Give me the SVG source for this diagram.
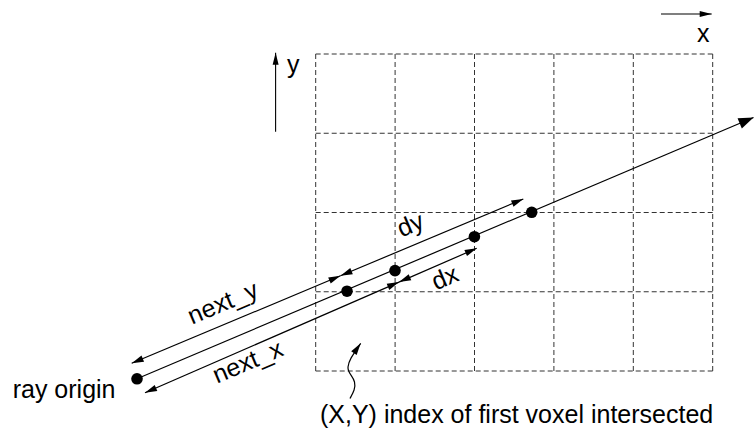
<svg xmlns="http://www.w3.org/2000/svg" width="754" height="430" viewBox="0 0 754 430">
<style>
  .grid line { stroke: #333; stroke-width: 1; stroke-dasharray: 5 3; fill: none; }
  .conn { stroke: #000; stroke-width: 1.2; fill: none; }
  .axis { stroke: #000; stroke-width: 1.1; fill: none; }
  .dot { fill: #000; }
  text { font-family: "Liberation Sans", Arial, Helvetica, sans-serif; font-size: 25px; fill: #000; }
</style>
<defs>
  <marker id="ah" markerUnits="userSpaceOnUse" viewBox="-13 -5 14 10" markerWidth="14" markerHeight="10" refX="0" refY="0" orient="auto-start-reverse" overflow="visible">
    <path d="M0,0 L-12,-3.3 L-12,3.3 Z" fill="#000"/>
  </marker>
  <marker id="big" markerUnits="userSpaceOnUse" viewBox="-16 -7 17 14" markerWidth="17" markerHeight="14" refX="0" refY="0" orient="auto" overflow="visible">
    <path d="M0,0 L-15,-5.5 L-15,5.5 Z" fill="#000"/>
  </marker>
  <marker id="ax" markerUnits="userSpaceOnUse" viewBox="-13 -5 14 10" markerWidth="14" markerHeight="10" refX="0" refY="0" orient="auto" overflow="visible">
    <path d="M0,0 L-12,-3 L-12,3 Z" fill="#000"/>
  </marker>
</defs>

<g id="grid" class="grid">
  <line x1="315.7" y1="54" x2="315.7" y2="371"/>
  <line x1="395.1" y1="54" x2="395.1" y2="371"/>
  <line x1="474.5" y1="54" x2="474.5" y2="371"/>
  <line x1="553.9" y1="54" x2="553.9" y2="371"/>
  <line x1="633.3" y1="54" x2="633.3" y2="371"/>
  <line x1="712.7" y1="54" x2="712.7" y2="371"/>
  <line x1="315.7" y1="54" x2="712.7" y2="54"/>
  <line x1="315.7" y1="133.25" x2="712.7" y2="133.25"/>
  <line x1="315.7" y1="212.5" x2="712.7" y2="212.5"/>
  <line x1="315.7" y1="291.75" x2="712.7" y2="291.75"/>
  <line x1="315.7" y1="371" x2="712.7" y2="371"/>
</g>

<g id="connectors">
  <line id="ray" class="conn" x1="137" y1="378.8" x2="753.5" y2="117.5" marker-end="url(#big)"/>
  <line id="next_y_arrow" class="conn" x1="131.7" y1="363.3" x2="340.5" y2="275.8" marker-start="url(#ah)" marker-end="url(#ah)"/>
  <line id="dy_arrow" class="conn" x1="340.5" y1="275.8" x2="523.3" y2="199" marker-start="url(#ah)" marker-end="url(#ah)"/>
  <line id="next_x_arrow" class="conn" x1="145" y1="392.7" x2="399" y2="282.1" marker-start="url(#ah)" marker-end="url(#ah)"/>
  <line id="dx_arrow" class="conn" x1="399" y1="282.1" x2="476.7" y2="248.3" marker-start="url(#ah)" marker-end="url(#ah)"/>
  <line id="x_axis" class="axis" x1="661" y1="14" x2="711.7" y2="14" marker-end="url(#ax)"/>
  <line id="y_axis" class="axis" x1="275.6" y1="131.7" x2="275.6" y2="52.7" marker-end="url(#ax)"/>
  <path id="pointer" class="conn" d="M350,398.5 C353,393 356,388 354.5,382 C353,376 347.5,373 348,367 C348.5,361 352,356 360.7,343.3" marker-end="url(#ah)"/>
</g>

<g id="origin"><circle class="dot" cx="137" cy="378.8" r="5.8"/><text x="115.5" y="398" text-anchor="end">ray origin</text></g>
<g id="p1"><circle class="dot" cx="347" cy="291.2" r="5.8"/></g>
<g id="p2"><circle class="dot" cx="395" cy="270.6" r="5.8"/></g>
<g id="p3"><circle class="dot" cx="474.4" cy="236.7" r="5.8"/></g>
<g id="p4"><circle class="dot" cx="531.7" cy="212.3" r="5.8"/></g>

<g id="label_next_y"><text x="226" y="310.3" text-anchor="middle" transform="rotate(-23 226 310.3)">next_y</text></g>
<g id="label_next_x"><text x="250.8" y="369.3" text-anchor="middle" transform="rotate(-23 250.8 369.3)">next_x</text></g>
<g id="label_dy"><text x="413.6" y="232.3" text-anchor="middle" transform="rotate(-23 413.6 232.3)">dy</text></g>
<g id="label_dx"><text x="448.1" y="285.3" text-anchor="middle" transform="rotate(-23 448.1 285.3)">dx</text></g>
<g id="label_x"><text x="697" y="42">x</text></g>
<g id="label_y"><text x="287" y="73">y</text></g>
<g id="caption"><text x="320" y="423">(X,Y) index of first voxel intersected</text></g>
</svg>
